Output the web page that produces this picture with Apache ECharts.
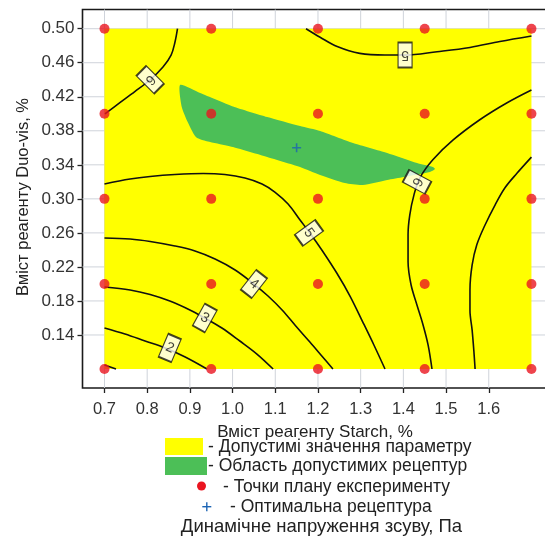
<!DOCTYPE html>
<html>
<head>
<meta charset="utf-8">
<script src="https://cdn.jsdelivr.net/npm/echarts@6/dist/echarts.min.js"></script>
<style>
html,body{margin:0;padding:0;background:#fff;}
#chart{width:545px;height:538px;}
</style>
</head>
<body>
<div id="chart"></div>
<script>
// ---- data ----
const xTicks = [0.7, 0.8, 0.9, 1.0, 1.1, 1.2, 1.3, 1.4, 1.5, 1.6];
const yTicks = [0.14, 0.18, 0.22, 0.26, 0.30, 0.34, 0.38, 0.42, 0.46, 0.50];
const designX = [0.7, 0.95, 1.2, 1.45, 1.7];
const designY = [0.1, 0.2, 0.3, 0.4, 0.5];
const optimum = [1.15, 0.36];
const regionX = [0.7, 1.7];
const regionY = [0.1, 0.5];

const greenRegion = [
  [0.877,0.4338],[0.924,0.4244],[1.001,0.4086],[1.081,0.3962],[1.158,0.3856],[1.205,0.3798],
  [1.282,0.3656],[1.362,0.3539],[1.432,0.3421],[1.469,0.3374],[1.474,0.3351],[1.462,0.3316],
  [1.401,0.3257],[1.362,0.3222],[1.305,0.3163],[1.263,0.3186],[1.205,0.3280],[1.158,0.3374],
  [1.081,0.3492],[1.001,0.3609],[0.917,0.3715],[0.896,0.3892],[0.881,0.4080]
];

const contour6a = [[0.871,0.5],[0.865,0.484],[0.856,0.469],[0.837,0.455],[0.807,0.440],[0.771,0.426],[0.736,0.413],[0.701,0.400]];
const contour5a = [[1.172,0.5],[1.205,0.490],[1.245,0.479],[1.298,0.471],[1.357,0.469],[1.404,0.469],[1.479,0.473],[1.556,0.478],[1.626,0.485],[1.7,0.4915]];
const contour6b = [[1.7,0.428],[1.643,0.413],[1.579,0.393],[1.516,0.369],[1.469,0.346],[1.439,0.325],[1.425,0.305],[1.415,0.281],[1.411,0.258],[1.411,0.226],[1.418,0.199],[1.432,0.175],[1.446,0.152],[1.458,0.128],[1.467,0.1]];
const contour7 = [[1.7,0.349],[1.666,0.330],[1.638,0.313],[1.615,0.293],[1.591,0.269],[1.572,0.246],[1.561,0.222],[1.556,0.193],[1.556,0.169],[1.561,0.146],[1.565,0.122],[1.568,0.1]];
const contour5b = [[0.7,0.3175],[0.760,0.3233],[0.807,0.3263],[0.865,0.3286],[0.931,0.3298],[0.982,0.3286],[1.029,0.3245],[1.069,0.3175],[1.099,0.3080],[1.130,0.2939],[1.158,0.2751],[1.181,0.2599],[1.209,0.2399],[1.244,0.2128],[1.275,0.1858],[1.305,0.1552],[1.331,0.1282],[1.357,0.1]];
const contour4 = [[0.7,0.254],[0.760,0.2528],[0.807,0.2499],[0.865,0.2446],[0.912,0.2387],[0.959,0.2293],[1.006,0.2164],[1.050,0.1999],[1.083,0.1858],[1.116,0.1694],[1.148,0.1505],[1.181,0.1317],[1.209,0.1153],[1.235,0.1]];
const contour3 = [[0.7,0.1964],[0.760,0.1929],[0.807,0.1876],[0.853,0.1799],[0.900,0.1694],[0.935,0.1599],[0.975,0.1482],[1.017,0.1329],[1.057,0.1176],[1.095,0.1]];
const contour2 = [[0.7,0.1482],[0.748,0.1411],[0.795,0.1329],[0.842,0.1247],[0.889,0.1141],[0.940,0.1]];
const contour1 = [[0.7,0.1047],[0.727,0.1]];

const contourLabels = [
  [0.807, 0.440, '6'],
  [1.404, 0.469, '5'],
  [1.432, 0.320, '6'],
  [1.179, 0.260, '5'],
  [1.050, 0.1999, '4'],
  [0.935, 0.160, '3'],
  [0.853, 0.1247, '2']
];

const xAxisTitle = 'Вміст реагенту Starch, %';
const yAxisTitle = 'Вміст реагенту Duo-vis, %';
const legendTexts = [
  '- Допустимі значення параметру',
  '- Область допустимих рецептур',
  '- Точки плану експерименту',
  '- Оптимальна рецептура'
];
const footerText = 'Динамічне напруження зсуву, Па';

// ---- chart ----
const FONT = '"Liberation Sans", Arial, sans-serif';
const labelAngles = [-135, 180, -118, -54, -38, -29, -23];

const chart = echarts.init(document.getElementById('chart'), null, {renderer: 'canvas'});

const designPoints = [];
designX.forEach(x => designY.forEach(y => designPoints.push([x, y])));

const contours = [contour6a, contour5a, contour6b, contour7, contour5b, contour4, contour3, contour2, contour1];

const gridItems = xTicks.map(v => [v, 0]).concat(yTicks.map(v => [v, 1]));

const series = [];
// gridlines
series.push({
  type: 'custom', z: 1, silent: true,
  data: gridItems,
  renderItem: function (params, api) {
    const v = api.value(0), vertical = api.value(1) === 0;
    const cs = params.coordSys;
    let shape;
    if (vertical) {
      const px = api.coord([v, 0.3])[0];
      shape = {x1: px, y1: cs.y, x2: px, y2: cs.y + cs.height};
    } else {
      const py = api.coord([1, v])[1];
      shape = {x1: cs.x, y1: py, x2: cs.x + cs.width, y2: py};
    }
    return {type: 'line', shape: shape, style: {stroke: '#cfd3da', lineWidth: 1}};
  }
});
// yellow feasible rectangle
series.push({
  type: 'custom', z: 2, silent: true,
  data: [[regionX[0], regionY[0], regionX[1], regionY[1]]],
  renderItem: function (params, api) {
    const p0 = api.coord([api.value(0), api.value(3)]);
    const p1 = api.coord([api.value(2), api.value(1)]);
    return {type: 'rect', shape: {x: p0[0], y: p0[1], width: p1[0] - p0[0], height: p1[1] - p0[1]}, style: {fill: '#ffff00'}};
  }
});
// green region
series.push({
  type: 'custom', z: 3, silent: true,
  data: greenRegion,
  renderItem: function (params, api) {
    if (params.dataIndex !== 0) return null;
    const pts = greenRegion.map(p => api.coord(p));
    return {type: 'polygon', shape: {points: pts, smooth: 0.2}, style: {fill: '#4cbf57'}};
  }
});
// contour lines
contours.forEach(c => {
  series.push({
    type: 'line', data: c, z: 4, symbol: 'none', smooth: 0.35, silent: true,
    lineStyle: {color: '#111', width: 1.6}
  });
});
// design points
series.push({
  type: 'scatter', data: designPoints, z: 6, symbol: 'circle', symbolSize: 10,
  itemStyle: {color: '#ea1520'}, silent: true
});
// optimum
series.push({
  type: 'scatter', data: [optimum], z: 6,
  symbol: 'path://M3.3,0h1.4v3.3h3.3v1.4h-3.3v3.3h-1.4v-3.3h-3.3v-1.4h3.3z',
  symbolSize: 9, itemStyle: {color: '#1c64b4'}, silent: true
});
// contour labels
series.push({
  type: 'scatter', z: 7, silent: true,
  data: contourLabels.map((l, i) => ({
    value: [l[0], l[1]], name: l[2],
    symbolRotate: labelAngles[i],
    label: {rotate: labelAngles[i]}
  })),
  symbol: 'rect', symbolSize: [14, 25],
  itemStyle: {color: '#fff', borderColor: '#111', borderWidth: 1.5},
  label: {show: true, position: 'inside', formatter: p => p.name, color: '#111', fontSize: 14, fontFamily: FONT}
});

const option = {
  animation: false,
  backgroundColor: '#fff',
  grid: {left: 82.5, top: 9.5, width: 470.3, height: 378.5, containLabel: false, outerBoundsMode: 'none', show: true, borderColor: '#1a1a1a', borderWidth: 1.6, backgroundColor: 'transparent'},
  xAxis: {
    type: 'value', min: 0.6485, max: 1.75,
    axisLine: {show: false},
    splitLine: {show: false},
    axisTick: {show: true, length: 5, inside: false, customValues: xTicks, lineStyle: {color: '#222', width: 1.3}},
    axisLabel: {customValues: xTicks, margin: 13, color: '#333', fontSize: 16.5, fontFamily: FONT, formatter: v => v.toFixed(1)}
  },
  yAxis: {
    type: 'value', min: 0.07767, max: 0.52257,
    axisLine: {show: false},
    splitLine: {show: false},
    axisTick: {show: true, length: 5, inside: false, customValues: yTicks, lineStyle: {color: '#222', width: 1.3}},
    axisLabel: {customValues: yTicks, margin: 8, color: '#333', fontSize: 17, fontFamily: FONT, formatter: v => v.toFixed(2)}
  },
  series: series,
  graphic: [
    {type: 'text', x: 23, y: 197, rotation: Math.PI / 2, style: {text: yAxisTitle, font: '16.5px ' + FONT, fill: '#222', textAlign: 'center', textVerticalAlign: 'middle'}},
    {type: 'text', x: 315, y: 432, style: {text: xAxisTitle, font: '17px ' + FONT, fill: '#222', textAlign: 'center', textVerticalAlign: 'middle'}},
    {type: 'rect', shape: {x: 165, y: 438, width: 38, height: 17}, style: {fill: '#ffff00'}},
    {type: 'text', x: 208, y: 447.5, style: {text: legendTexts[0], font: '17.5px ' + FONT, fill: '#222', textVerticalAlign: 'middle'}},
    {type: 'rect', shape: {x: 165, y: 457, width: 42, height: 18}, style: {fill: '#4cbf57'}},
    {type: 'text', x: 208, y: 466.5, style: {text: legendTexts[1], font: '17.5px ' + FONT, fill: '#222', textVerticalAlign: 'middle'}},
    {type: 'circle', shape: {cx: 201.5, cy: 486, r: 4.5}, style: {fill: '#ea1520'}},
    {type: 'text', x: 223, y: 487, style: {text: legendTexts[2], font: '17.5px ' + FONT, fill: '#222', textVerticalAlign: 'middle'}},
    {type: 'rect', shape: {x: 202.3, y: 506, width: 9, height: 1.4}, style: {fill: '#1c64b4'}},
    {type: 'rect', shape: {x: 206.1, y: 502.2, width: 1.4, height: 9}, style: {fill: '#1c64b4'}},
    {type: 'text', x: 230, y: 507, style: {text: legendTexts[3], font: '17.5px ' + FONT, fill: '#222', textVerticalAlign: 'middle'}},
    {type: 'text', x: 321.5, y: 527, style: {text: footerText, font: '18.5px ' + FONT, fill: '#222', textAlign: 'center', textVerticalAlign: 'middle'}}
  ]
};
chart.setOption(option);
</script>
</body>
</html>
